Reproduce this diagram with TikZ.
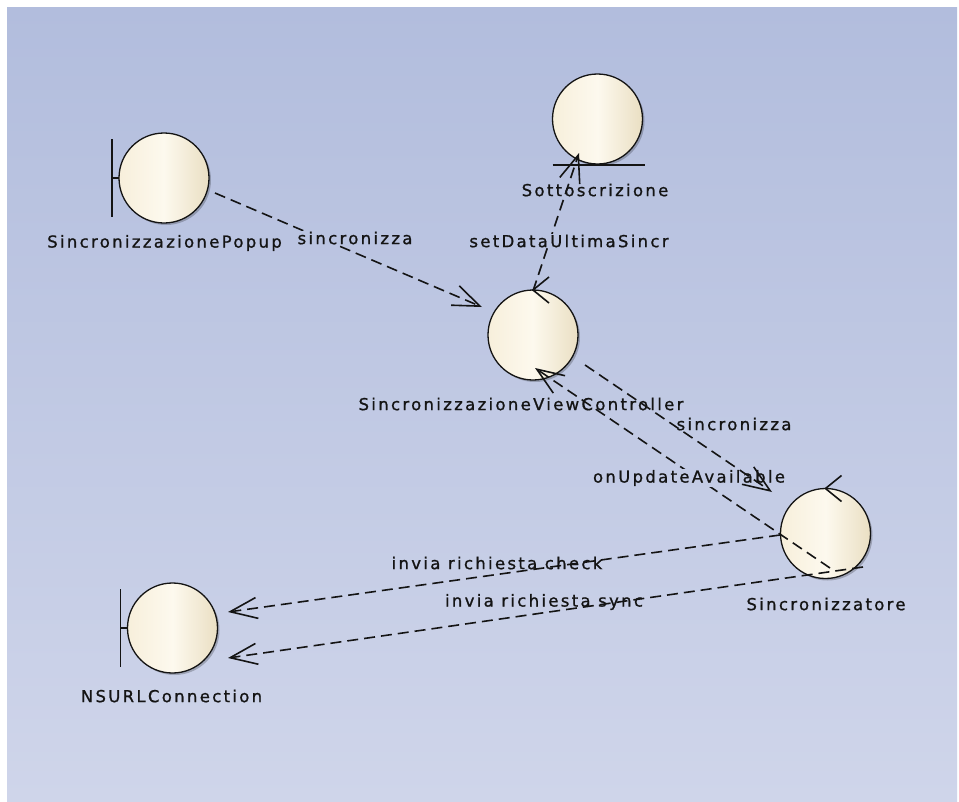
\documentclass[tikz,border=0pt]{standalone}
\usepackage{fontspec}
\newfontfamily\diafont{DejaVu Sans}[LetterSpace=14,FakeBold=1]
\usetikzlibrary{arrows.meta,calc,shadows}
\definecolor{bgtop}{RGB}{178,189,221}
\definecolor{bgbot}{RGB}{207,213,234}
\definecolor{creamL}{RGB}{247,239,219}
\definecolor{creamM}{RGB}{253,249,238}
\definecolor{creamR}{RGB}{234,223,195}
\definecolor{ink}{RGB}{20,20,20}
% background tint behind each message label (follows the vertical gradient)
\definecolor{bgA}{RGB}{186,196,225}
\definecolor{bgB}{RGB}{193,202,228}
\definecolor{bgC}{RGB}{195,203,229}
\definecolor{bgD}{RGB}{198,206,230}
\definecolor{bgE}{RGB}{200,207,231}

\begin{document}
\begin{tikzpicture}[x=1pt,y=-1pt,
  robust/.style={circle,minimum size=90pt,inner sep=0pt,outer sep=0pt,
    draw=ink,line width=1.3pt,
    left color=creamL,right color=creamR,middle color=creamM,
    drop shadow={shadow xshift=2pt,shadow yshift=-2pt,opacity=.22,fill=black}},
  symline/.style={draw=ink,line width=1.6pt},
  conn/.style={draw=ink,line width=1.6pt,dash pattern=on 11pt off 6pt,
    -{Straight Barb[length=27pt,width=21pt]}},
  lab/.style={font=\diafont\fontsize{16.5pt}{19pt}\selectfont,text=ink,inner sep=0pt},
  msg/.style={lab,inner sep=1pt}]

% canvas and background
\useasboundingbox (0,0) rectangle (959,801);
\fill[white] (0,0) rectangle (959,801);
\shade[top color=bgtop,bottom color=bgbot] (7,7) rectangle (957,801);

% robustness objects
\node[robust] (popup) at (164,178) {};
\node[robust] (sott)  at (597.5,119) {};
\node[robust] (vc)    at (533,335) {};
\node[robust] (sync)  at (825.5,533.5) {};
\node[robust] (nsurl) at (172.5,628) {};

% boundary markers
\draw[symline] ($(popup)+(-52,-39)$) -- ($(popup)+(-52,39)$)
               ($(popup)+(-52,0)$) -- (popup.west);
\draw[symline] ($(nsurl)+(-52,-39)$) -- ($(nsurl)+(-52,39)$)
               ($(nsurl)+(-52,0)$) -- (nsurl.west);
% entity marker
\draw[symline] ($(sott)+(-45,46)$) -- ($(sott)+(47,46)$);
% control markers
\draw[symline] ($(vc.north)+(16,-13)$) -- (vc.north) -- ($(vc.north)+(16,13)$);
\draw[symline] ($(sync.north)+(16,-13)$) -- (sync.north) -- ($(sync.north)+(16,13)$);

% messages
\draw[conn] ($(popup)+(51,15)$) -- ($(vc)+(-51,-28)$);
\draw[conn] ($(vc)+(0,-44)$) -- ($(sott)+(-18.5,34)$);
\draw[conn] ($(sync)+(4.5,34.5)$) -- ($(vc)+(2,33)$);
\draw[conn] ($(sync)+(-45.5,1.5)$) -- ($(nsurl)+(55.5,-16)$);
\draw[conn] ($(sync)+(37.5,33.5)$) -- ($(nsurl)+(55.5,30)$);

% message labels
\node[msg,fill=bgA] (l1) at (355,238) {sincronizza};
\node[msg,fill=bgA] (l2) at (569,241) {setDataUltimaSincr};
\node[msg,fill=bgB] (l3) at (734,424) {sincronizza};
\node[msg,fill=bgC] (l4) at (689,478) {onUpdateAvailable};
\node[msg] (l5) at (497,563) {invia richiesta check};
\node[msg] (l6) at (544,602) {invia richiesta sync};

% the last call is drawn over its label
\draw[conn] ($(vc)+(52,30)$) -- ($(sync)+(-53.5,-41.5)$);

% object names
\node[lab] (popup-name) at (164.5,243) {SincronizzazionePopup};
\node[lab] (sott-name)  at (595,190) {Sottoscrizione};
\node[lab] (vc-name)    at (521,404) {SincronizzazioneViewController};
\node[lab] (sync-name)  at (826,604) {Sincronizzatore};
\node[lab] (nsurl-name) at (171.5,696) {NSURLConnection};
\end{tikzpicture}
\end{document}
